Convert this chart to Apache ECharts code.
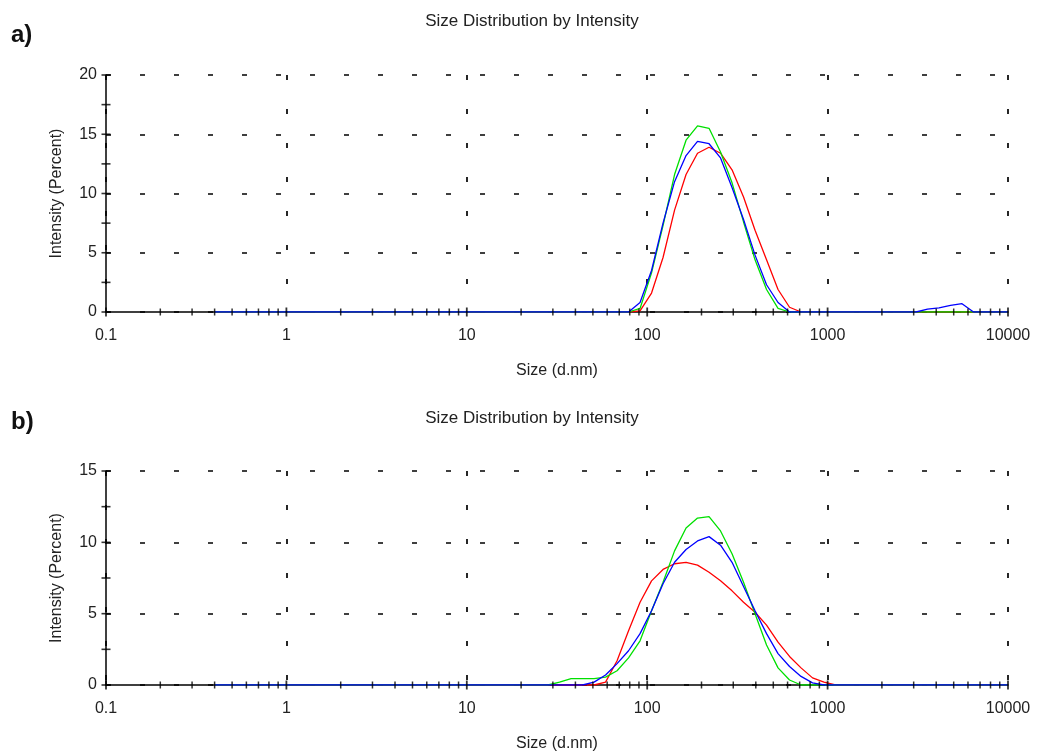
<!DOCTYPE html>
<html><head><meta charset="utf-8">
<script src="https://cdn.jsdelivr.net/npm/echarts@6/dist/echarts.min.js"></script>
<style>html,body{margin:0;padding:0;background:#fff}#c{width:1038px;height:753px}</style>
</head><body><div id="c"></div>
<script>
// Size bins (d.nm)
const sizes = [0.4,0.4632,0.5365,0.6213,0.7195,0.8332,0.9649,1.117,1.294,1.499,
  1.736,2.010,2.328,2.696,3.122,3.615,4.187,4.849,5.615,6.503,
  7.531,8.721,10.10,11.70,13.54,15.69,18.17,21.04,24.36,28.21,
  32.67,37.84,43.82,50.75,58.77,68.06,78.82,91.28,105.7,122.4,
  141.8,164.2,190.1,220.2,255.0,295.3,342.0,396.1,458.7,531.2,
  615.1,712.4,825.0,955.4,1106,1281,1484,1718,1990,2305,
  2669,3091,3580,4145,4801,5560,6439,7456,8635,10000];

// Panel a) intensity (%)
const redA = [0,0,0,0,0,0,0,0,0,0, 0,0,0,0,0,0,0,0,0,0, 0,0,0,0,0,0,0,0,0,0,
  0,0,0,0,0,0,0,0.1,1.6,4.6, 8.6,11.6,13.4,13.9,13.4,12.0,9.7,6.9,4.4,1.9,
  0.4,0,0,0,0,0,0,0,0,0, 0,0,0,0,0,0,0,0,0,0];
const greenA = [0,0,0,0,0,0,0,0,0,0, 0,0,0,0,0,0,0,0,0,0, 0,0,0,0,0,0,0,0,0,0,
  0,0,0,0,0,0,0,0.3,3.3,7.3, 11.6,14.5,15.7,15.5,13.5,10.9,7.6,4.4,1.9,0.3,
  0,0,0,0,0,0,0,0,0,0, 0,0,0,0,0,0,0,0,0,0];
const blueA = [0,0,0,0,0,0,0,0,0,0, 0,0,0,0,0,0,0,0,0,0, 0,0,0,0,0,0,0,0,0,0,
  0,0,0,0,0,0,0,0.8,3.5,7.5, 11.0,13.2,14.4,14.2,13.0,10.5,7.8,4.8,2.3,0.8,
  0,0,0,0,0,0,0,0,0,0, 0,0,0.25,0.35,0.55,0.7,0,0,0,0];

// Panel b) intensity (%)
const redB = [0,0,0,0,0,0,0,0,0,0, 0,0,0,0,0,0,0,0,0,0, 0,0,0,0,0,0,0,0,0,0,
  0,0,0,0,0.2,1.7,3.8,5.8,7.3,8.1, 8.5,8.6,8.4,7.9,7.3,6.6,5.8,5.1,4.2,3.0,
  2.0,1.2,0.5,0.2,0,0,0,0,0,0, 0,0,0,0,0,0,0,0,0,0];
const greenB = [0,0,0,0,0,0,0,0,0,0, 0,0,0,0,0,0,0,0,0,0, 0,0,0,0,0,0,0,0,0,0,
  0.2,0.45,0.45,0.45,0.55,1.0,1.9,3.1,5.2,7.2, 9.4,11.0,11.7,11.8,10.8,9.2,7.2,5.0,2.8,1.2,
  0.35,0,0,0,0,0,0,0,0,0, 0,0,0,0,0,0,0,0,0,0];
const blueB = [0,0,0,0,0,0,0,0,0,0, 0,0,0,0,0,0,0,0,0,0, 0,0,0,0,0,0,0,0,0,0,
  0,0,0,0.2,0.7,1.5,2.4,3.6,5.2,7.1, 8.6,9.5,10.1,10.4,9.8,8.6,6.9,5.2,3.6,2.2,
  1.3,0.6,0.15,0,0,0,0,0,0,0, 0,0,0,0,0,0,0,0,0,0];

// Tick values
const decades = [0.1,1,10,100,1000,10000];
const minorMult = [2,3,4,5,6,7,8,9];
const yTicksA = [0,2.5,5,7.5,10,12.5,15,17.5,20];
const yTicksB = [0,2.5,5,7.5,10,12.5,15];

const FONT = "'Liberation Sans', Arial, sans-serif";
const TXT = '#222';
const minorX = [];
decades.slice(0,5).forEach(d => minorMult.forEach(m => minorX.push(+(d*m).toPrecision(6))));

function pair(arr){ return sizes.map((s,i)=>[s, arr[i]]); }

function xAx(gi){
  return {
    type:'log', logBase:10, gridIndex:gi, min:0.1, max:10000,
    axisLine:{show:true, onZero:false, lineStyle:{color:'#000', width:1.5}},
    axisTick:{show:false},
    axisLabel:{color:TXT, fontSize:16, fontFamily:FONT, margin:16,
      formatter:v=>String(+(+v).toPrecision(6))},
    splitLine:{show:true, lineStyle:{color:'#000', width:1.7, type:[5,29]}},
    minorTick:{show:false}, minorSplitLine:{show:false},
    name:'Size (d.nm)', nameLocation:'middle', nameGap:51,
    nameTextStyle:{color:TXT, fontSize:16, fontFamily:FONT}
  };
}
function yAx(gi, max){
  return {
    type:'value', gridIndex:gi, min:0, max:max, interval:5,
    axisLine:{show:true, lineStyle:{color:'#000', width:1.5}},
    axisTick:{show:false},
    axisLabel:{color:TXT, fontSize:16, fontFamily:FONT, margin:9},
    splitLine:{show:true, lineStyle:{color:'#000', width:1.7, type:[5,29]}},
    name:'Intensity (Percent)', nameLocation:'middle', nameGap:41,
    nameTextStyle:{color:TXT, fontSize:16, fontFamily:FONT}
  };
}
function line(gi, arr, color, z){
  return {type:'line', xAxisIndex:gi, yAxisIndex:gi, data:pair(arr), showSymbol:false,
    symbol:'none', lineStyle:{color:color, width:1.3}, itemStyle:{color:color},
    silent:true, z:z, animation:false};
}
function ticks(gi, yTicks){
  return [
    {type:'scatter', xAxisIndex:gi, yAxisIndex:gi, data:minorX.map(v=>[v,0]), symbol:'rect',
      symbolSize:[1.5,7], itemStyle:{color:'#000'}, silent:true, z:6, clip:false},
    {type:'scatter', xAxisIndex:gi, yAxisIndex:gi, data:decades.map(v=>[v,0]), symbol:'rect',
      symbolSize:[1.8,9], itemStyle:{color:'#000'}, silent:true, z:6, clip:false},
    {type:'scatter', xAxisIndex:gi, yAxisIndex:gi, data:yTicks.map(v=>[0.1,v]), symbol:'rect',
      symbolSize:[9,1.6], itemStyle:{color:'#000'}, silent:true, z:6, clip:false}
  ];
}

const chart = echarts.init(document.getElementById('c'), null, {renderer:'canvas'});
chart.setOption({
  animation:false,
  backgroundColor:'#fff',
  grid:[
    {left:106, top:75, width:902, height:237},
    {left:106, top:471, width:902, height:214}
  ],
  xAxis:[xAx(0), xAx(1)],
  yAxis:[yAx(0,20), yAx(1,15)],
  graphic:[
    {type:'text', x:11, y:23, style:{text:'a)', font:"bold 24px "+FONT, fill:'#111'}},
    {type:'text', x:11, y:410, style:{text:'b)', font:"bold 24px "+FONT, fill:'#111'}},
    {type:'text', x:532, y:13, style:{text:'Size Distribution by Intensity', font:"17px "+FONT, fill:TXT, textAlign:'center'}},
    {type:'text', x:532, y:410, style:{text:'Size Distribution by Intensity', font:"17px "+FONT, fill:TXT, textAlign:'center'}}
  ],
  series:[
    line(0, redA, '#ff0000', 3), line(0, greenA, '#00e000', 4), line(0, blueA, '#0000ff', 5),
    line(1, redB, '#ff0000', 3), line(1, greenB, '#00e000', 4), line(1, blueB, '#0000ff', 5),
    ...ticks(0, yTicksA), ...ticks(1, yTicksB)
  ]
});
</script>
</body></html>
